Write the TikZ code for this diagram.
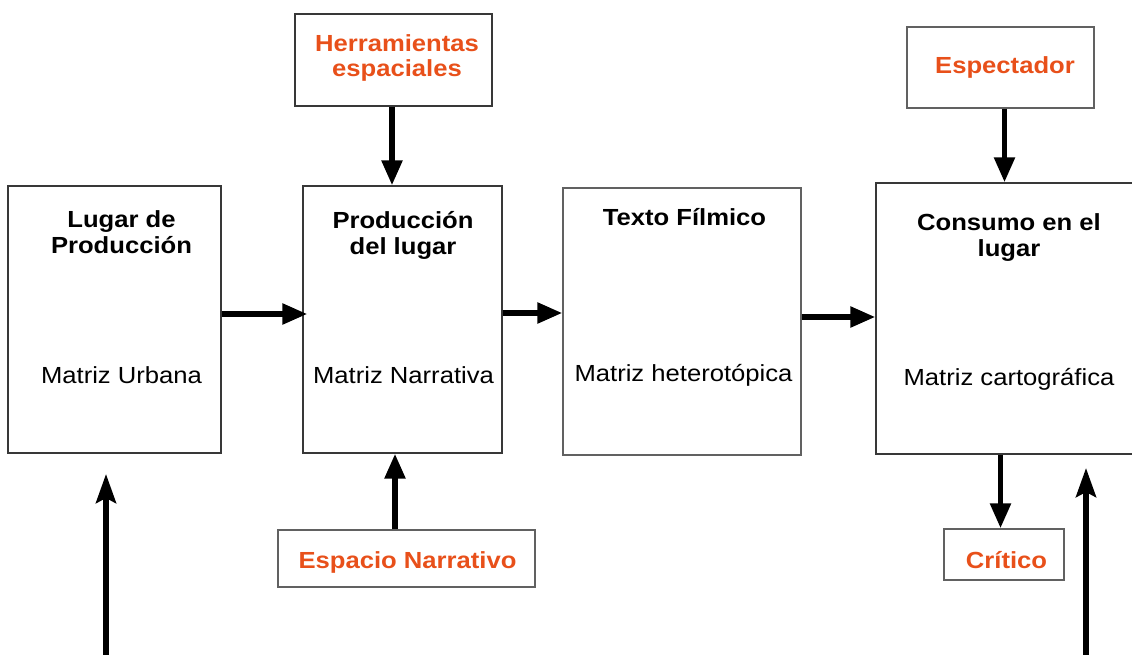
\documentclass[tikz,border=0pt]{standalone}
\usepackage{fontspec}
\setmainfont{Liberation Sans}[FakeStretch=1.1]
\usetikzlibrary{arrows.meta}
\definecolor{orng}{RGB}{232,80,26}
\begin{document}
\begin{tikzpicture}[x=1pt,y=-1pt,
  box/.style={draw=black!78,line width=1.4pt,inner sep=0pt},
  gbox/.style={draw=black!62,line width=1.4pt,inner sep=0pt},
  ttl/.style={font=\fontsize{23.3}{26}\selectfont\bfseries,align=center,inner sep=0pt,anchor=base},
  txt/.style={font=\fontsize{23.3}{26}\selectfont,inner sep=0pt,anchor=base},
  otxt/.style={font=\fontsize{23.3}{25}\selectfont\bfseries,text=orng,align=center,inner sep=0pt,anchor=base},
  arr/.style={line width=5.5pt,-{Triangle[length=25pt,width=20pt]}},
  uparr/.style={line width=5.5pt,-{Stealth[length=29pt,width=20pt,inset=5pt]}}]
\useasboundingbox (0,0) rectangle (1132,654);
% boxes
\node[box,minimum width=213pt,minimum height=267pt] (lugar) at (114.5,319.5) {};
\node[box,minimum width=199pt,minimum height=267pt] (prod) at (402.5,319.5) {};
\node[gbox,minimum width=238pt,minimum height=267pt] (texto) at (682,321.5) {};
\node[box,minimum width=264pt,minimum height=271pt] (consumo) at (1008,318.5) {};
\node[box,minimum width=197pt,minimum height=92pt] (herr) at (393.5,60) {};
\node[gbox,minimum width=187pt,minimum height=81pt] (espect) at (1000.5,67.5) {};
\node[gbox,minimum width=257pt,minimum height=57pt] (espacio) at (406.5,558.5) {};
\node[gbox,minimum width=120pt,minimum height=51pt] (critico) at (1004,554.5) {};
% texts
\node[ttl] (t1) at (121.5,253.3) {Lugar de\\Producción};
\node[txt] (m1) at (121.5,383.3) {Matriz Urbana};
\node[ttl] (t2) at (403,254.3) {Producción\\del lugar};
\node[txt] (m2) at (403.5,383.3) {Matriz Narrativa};
\node[ttl] (t3) at (684.5,225) {Texto Fílmico};
\node[txt] (m3) at (683.5,381.7) {Matriz heterotópica};
\node[ttl] (t4) at (1009,256) {Consumo en el\\lugar};
\node[txt] (m4) at (1009,385) {Matriz cartográfica};
\node[otxt] (o1) at (397,76.7) {Herramientas\\espaciales};
\node[otxt] (o2) at (1005,73.3) {Espectador};
\node[otxt] (o3) at (407.5,568) {Espacio Narrativo};
\node[otxt] (o4) at (1006.5,568.3) {Crítico};
% free ends
\coordinate (bl0) at (106,660);
\coordinate (bl1) at (106,474);
\coordinate (br0) at (1086,660);
\coordinate (br1) at (1086,468);
% connectors
\draw[arr] ([yshift=5.5pt]lugar.east) -- ([yshift=5.5pt,xshift=5pt]prod.west);
\draw[arr] ([yshift=6.5pt]prod.east) -- ([yshift=8.5pt]texto.west);
\draw[arr] ([yshift=4.5pt]texto.east) -- ([yshift=1.5pt]consumo.west);
\draw[arr] ([xshift=-1.5pt]herr.south) -- ([xshift=-1.5pt]herr.south |- prod.north);
\draw[arr] ([xshift=4pt]espect.south) -- ([xshift=4pt]espect.south |- consumo.north);
\draw[arr] ([xshift=-11.5pt]espacio.north) -- ([xshift=-11.5pt]espacio.north |- prod.south);
\draw[arr] ([xshift=-3.5pt]critico.north |- consumo.south) -- ([xshift=-3.5pt]critico.north);
\draw[uparr] (bl0) -- (bl1);
\draw[uparr] (br0) -- (br1);
\end{tikzpicture}
\end{document}
